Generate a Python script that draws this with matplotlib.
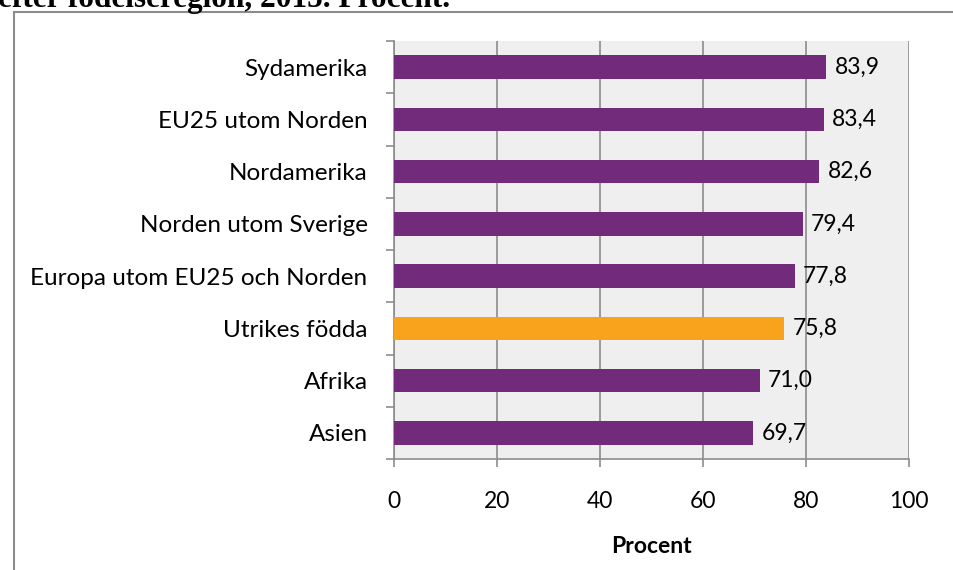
import matplotlib
matplotlib.use("Agg")
import matplotlib.pyplot as plt
from matplotlib.patches import Rectangle

# data, top to bottom as in the chart
regioner = ["Sydamerika", "EU25 utom Norden", "Nordamerika", "Norden utom Sverige",
            "Europa utom EU25 och Norden", "Utrikes födda", "Afrika", "Asien"]
procent = [83.9, 83.4, 82.6, 79.4, 77.8, 75.8, 71.0, 69.7]
farger = ["#722A7B", "#722A7B", "#722A7B", "#722A7B",
          "#722A7B", "#F9A21B", "#722A7B", "#722A7B"]
xticks = [0, 20, 40, 60, 80, 100]

plt.rcParams['font.family'] = ['Lato', 'DejaVu Sans']

W, H = 954, 570
fig = plt.figure(figsize=(W / 100, H / 100), dpi=100)
ax = fig.add_axes([394 / W, 1 - 459 / H, (909 - 394) / W, (459 - 41) / H])

# outer frame (cut off at right and bottom)
fig.patches.append(Rectangle((14 / W, -0.1), 1.2, 1 - 12 / H + 0.1, transform=fig.transFigure,
                             fill=False, edgecolor="#8C8C8C", linewidth=1.5))
# title, cut off at the top like in the original
fig.text(-0.002, 1 - 7 / H, "efter födelseregion, 2015. Procent.", family="Liberation Serif",
         fontweight="bold", fontsize=22.5, ha="left", va="baseline")

y = list(range(len(regioner)))[::-1]
ax.barh(y, procent, height=0.45, color=farger, zorder=3)
for yi, v in zip(y, procent):
    ax.annotate(f"{v:.1f}".replace(".", ","), (v, yi), xytext=(6, 0),
                textcoords="offset points", va="center", ha="left",
                fontsize=16.5, zorder=4)

ax.set_facecolor("#EFEFEF")
ax.set_xlim(0, 100)
ax.set_ylim(-0.5, len(regioner) - 0.5)
ax.set_xticks(xticks)
ax.set_xticklabels([str(t) for t in xticks], fontsize=16.5)
ax.set_yticks(y)
ax.set_yticklabels(regioner, fontsize=17.5)
ax.set_yticks([i - 0.5 for i in range(len(regioner) + 1)], minor=True)
ax.tick_params(axis="y", which="major", length=0, pad=19)
ax.tick_params(axis="y", which="minor", length=6, color="#8C8C8C", width=1.2)
ax.tick_params(axis="x", length=6, color="#8C8C8C", width=1.2, pad=17)
ax.grid(axis="x", color="#8C8C8C", linewidth=1.2, zorder=0)
ax.set_axisbelow(True)
for s in ["top", "right"]:
    ax.spines[s].set_visible(False)
for s in ["left", "bottom"]:
    ax.spines[s].set_color("#8C8C8C")
    ax.spines[s].set_linewidth(1.2)
ax.set_xlabel("Procent", fontsize=16.5, fontweight="bold", labelpad=17)

fig.savefig("out.png", dpi=100)
